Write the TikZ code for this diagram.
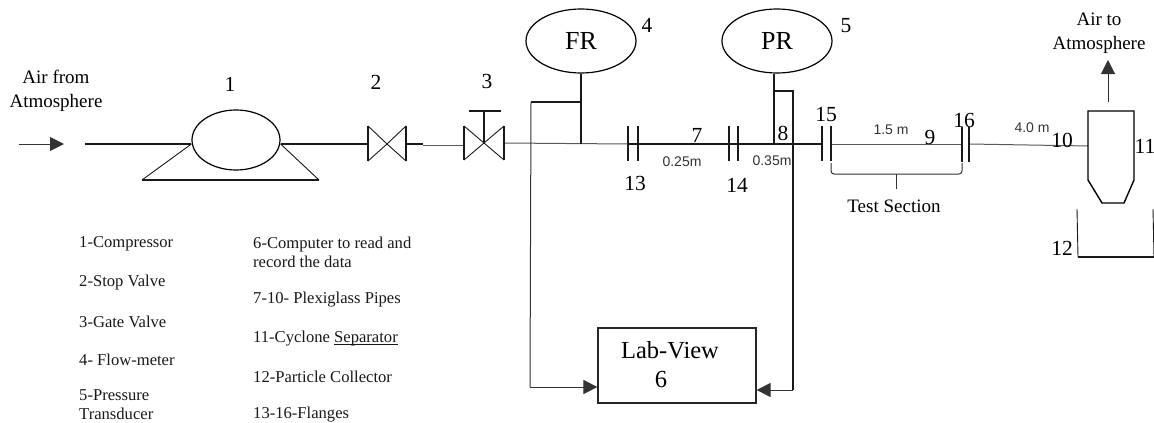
\documentclass[tikz,border=0pt]{standalone}
\usepackage{fontspec}
\setmainfont{Liberation Serif}
\setsansfont{Liberation Sans}
\usetikzlibrary{shapes.geometric,arrows.meta}
\begin{document}
\begin{tikzpicture}[x=1pt,y=-1pt,
                tank/.style={ellipse,draw=black,line width=1.2pt,inner sep=0pt,
                minimum width=110pt,minimum height=64pt,font=\fontsize{26}{28}\selectfont},
                num/.style={inner sep=0pt,font=\fontsize{21.5}{24}\selectfont},
                air/.style={inner sep=0pt,align=center,font=\fontsize{19}{24}\selectfont},
                len/.style={inner sep=0pt,text=black!80,font=\sffamily\fontsize{14}{16}\selectfont},
                legend/.style={inner sep=0pt,anchor=west,align=left,text=black!90,font=\fontsize{16.6}{19}\selectfont},
                pipe/.style={line width=1.6pt,black!90},
                thinpipe/.style={line width=1pt,black!65},
                wire/.style={line width=1pt,black!80},
                vane/.style={line width=0.9pt,black!90},
                flow/.style={-{Triangle[length=14pt,width=14pt]}}]
                \useasboundingbox (0,0) rectangle (1154,423);
                % equipment
                \node (comp) at (236,140) [ellipse,draw=black,line width=1.2pt,inner sep=0pt,minimum width=88pt,minimum height=60pt] {};
                \node (fr) at (581,41) [tank] {FR};
                \node (pr) at (777,41) [tank] {PR};
                \node (lab) at (677,365.5) [rectangle,draw=black!85,line width=1.2pt,minimum width=158pt,minimum height=75pt] {};
                \node (labtxt) at (670,350) [inner sep=0pt,font=\fontsize{24.5}{28}\selectfont] {Lab-View};
                \node (six) at (661,380) [inner sep=0pt,font=\fontsize{24.5}{28}\selectfont] {6};
                % junctions
                \coordinate (inA) at (19,144);
                \coordinate (inB) at (64,144);
                \coordinate (pipeA) at (85,144);
                \coordinate (baseL) at (142,180);
                \coordinate (baseR) at (319,180);
                \coordinate (v2L) at (368,144);
                \coordinate (v2M) at (387,144);
                \coordinate (v2R) at (406,144);
                \coordinate (pipeB) at (423,144);
                \coordinate (pipeC) at (423,145);
                \coordinate (v3L) at (464,145);
                \coordinate (v3M) at (484,143);
                \coordinate (v3R) at (504,143);
                \coordinate (v3T) at (484,111);
                \coordinate (frJ) at (581,144);
                \coordinate (frB) at (581,102);
                \coordinate (frC) at (531,102);
                \coordinate (frD) at (530,387);
                \coordinate (f13) at (628,144);
                \coordinate (f15) at (822,144);
                \coordinate (f15b) at (831,144);
                \coordinate (f16) at (962,144);
                \coordinate (f16b) at (969,144);
                \coordinate (cyc) at (1088,146);
                \coordinate (prJ) at (774,144);
                \coordinate (prB) at (774,91);
                \coordinate (prC) at (793,91);
                \coordinate (prD) at (793,390);
                \coordinate (outA) at (1108,102);
                \coordinate (outB) at (1108,60);
                \coordinate (braceM) at (896,174);
                \coordinate (braceE) at (896,189);
                % pipe line
                \draw[wire,flow] (inA) -- (inB);
                \draw[pipe] (pipeA) -- (comp.west |- pipeA);
                \draw[pipe] (comp.east |- pipeA) -- (v2L);
                \draw[pipe] (v2R) -- (pipeB);
                \draw[thinpipe] (pipeC) -- (v3L);
                \draw[thinpipe] (v3R) -- (f13);
                \draw[pipe] (f13) -- (f15);
                \draw[thinpipe] (f15b) -- (f16);
                \draw[thinpipe] (f16b) -- (cyc);
                % compressor base
                \draw[vane] (comp.west |- pipeA) -- (baseL);
                \draw[vane] (comp.east |- pipeA) -- (baseR);
                \draw[pipe] (baseL) -- (baseR);
                % valves
                \draw[pipe] (368,126) -- (368,161);
                \draw[pipe] (406,126) -- (406,161);
                \draw[vane] (368,126) -- (v2M) -- (406,161);
                \draw[vane] (368,161) -- (v2M) -- (406,126);
                \draw[pipe] (464,126) -- (464,160);
                \draw[pipe] (504,126) -- (504,160);
                \draw[vane] (464,126) -- (v3M) -- (504,160);
                \draw[vane] (464,160) -- (v3M) -- (504,126);
                \draw[pipe] (v3M) -- (v3T);
                \draw[pipe] (469,111) -- (501,111);
                % flanges
                \draw[pipe] (628,126) -- (628,161);
                \draw[pipe] (638,126) -- (638,161);
                \draw[pipe] (729,126) -- (729,161);
                \draw[pipe] (738,126) -- (738,161);
                \draw[pipe] (822,126) -- (822,161);
                \draw[pipe] (831,126) -- (831,161);
                \draw[pipe] (962,127) -- (962,162);
                \draw[pipe] (969,127) -- (969,162);
                % signal lines
                \draw[pipe] (fr.south) -- (frJ);
                \draw[pipe] (frB) -- (frC);
                \draw[wire] (frC) -- (frD);
                \draw[wire,flow] (frD) -- (lab.west |- frD);
                \draw[pipe] (pr.south -| prJ) -- (prJ);
                \draw[pipe] (prB) -- (prC) -- (prD);
                \draw[wire,flow] (prD) -- (lab.east |- prD);
                % cyclone and collector
                \draw[line width=1.4pt] (1088,180) -- (1088,111) -- (1134,111) -- (1134,180) -- (1124,203) -- (1102,203) -- cycle;
                \draw[wire,flow] (outA) -- (outB);
                \draw[vane] (1077,209) -- (1078,257);
                \draw[pipe] (1078,257) -- (1154,257);
                \draw[vane] (1153,209) -- (1154,257);
                % test section brace
                \draw[wire,rounded corners=3pt] (831,163) -- (831,174) -- (962,174) -- (962,163);
                \draw[wire] (braceM) -- (braceE);
                % labels
                \node (airin) at (56,91) [air] {Air from\\Atmosphere};
                \node (airout) at (1099,33) [air] {Air to\\Atmosphere};
                \node (testsec) at (894,206) [air] {Test Section};
                \node (n1) at (230,84) [num] {1};
                \node (n2) at (376,82) [num] {2};
                \node (n3) at (487,81) [num] {3};
                \node (n4) at (647,25) [num] {4};
                \node (n5) at (846,26) [num] {5};
                \node (n7) at (697,135) [num] {7};
                \node (n8) at (783,133) [num] {8};
                \node (n9) at (930,137) [num] {9};
                \node (n10) at (1062,140) [num] {10};
                \node (n11) at (1145,146) [num] {11};
                \node (n12) at (1062,248) [num] {12};
                \node (n13) at (635,183) [num] {13};
                \node (n14) at (737,185) [num] {14};
                \node (n15) at (826,115) [num] {15};
                \node (n16) at (964,120) [num] {16};
                \node (l25) at (682,162) [len] {0.25m};
                \node (l35) at (772,161) [len] {0.35m};
                \node (l15) at (891,130) [len] {1.5 m};
                \node (l40) at (1032,128) [len] {4.0 m};
                % legend
                \node (k1) at (79,244) [legend] {1-Compressor};
                \node (k2) at (79,283) [legend] {2-Stop Valve};
                \node (k3) at (79,322) [legend] {3-Gate Valve};
                \node (k4) at (79,360) [legend] {4- Flow-meter};
                \node (k5) at (79,405) [legend] {5-Pressure\\Transducer};
                \node (k6) at (253,252.5) [legend] {6-Computer to read and\\record the data};
                \node (k7) at (253,300) [legend] {7-10- Plexiglass Pipes};
                \node (k11) at (253,339) [legend] {11-Cyclone \underline{\smash{Separator}}};
                \node (k12) at (253,377) [legend] {12-Particle Collector};
                \node (k13) at (253,415) [legend] {13-16-Flanges};
            \end{tikzpicture}
\end{document}
